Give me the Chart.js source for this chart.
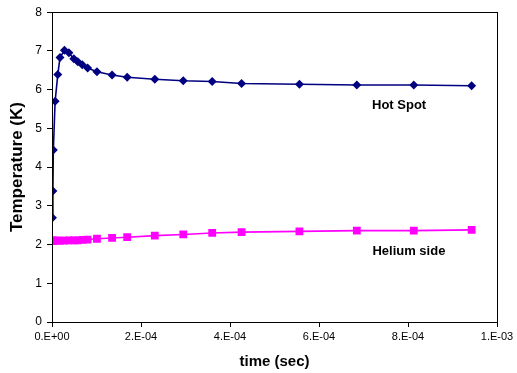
<!DOCTYPE html>
<html>
<head>
<meta charset="utf-8">
<script src="https://cdn.jsdelivr.net/npm/chart.js@4.4.1/dist/chart.umd.min.js"></script>
<style>
  html, body { margin: 0; padding: 0; background: #ffffff; }
  #wrap { width: 517px; height: 373px; position: relative; }
</style>
</head>
<body>
<div id="wrap"><canvas id="c"></canvas></div>
<script>
// time (sec)
const times = [1e-6, 2e-6, 3e-6, 7e-6, 1.3e-5, 1.8e-5, 2.8e-5, 3.8e-5, 4.9e-5, 5.8e-5, 6.8e-5, 8.0e-5,
  1.01e-4, 1.35e-4, 1.69e-4, 2.31e-4, 2.95e-4, 3.60e-4, 4.26e-4, 5.56e-4, 6.85e-4, 8.13e-4, 9.43e-4];
// Temperature (K)
const hotSpot = [2.69, 3.38, 4.44, 5.70, 6.39, 6.83, 7.02, 6.95, 6.80, 6.72, 6.64, 6.56,
  6.46, 6.38, 6.32, 6.27, 6.23, 6.21, 6.16, 6.14, 6.12, 6.12, 6.10];
const heliumSide = [2.10, 2.10, 2.10, 2.10, 2.10, 2.10, 2.10, 2.11, 2.11, 2.11, 2.12, 2.13,
  2.15, 2.17, 2.19, 2.23, 2.26, 2.30, 2.32, 2.34, 2.36, 2.36, 2.38];
const seriesNames = ['Hot Spot', 'Helium side'];
// label anchors in data units [time, temperature]
const labelAnchors = [[7.8e-4, 5.58], [8.02e-4, 1.82]];

const xTitle = 'time (sec)';
const yTitle = 'Temperature (K)';

function toPts(xs, ys) { return xs.map((x, i) => ({ x: x, y: ys[i] })); }

function sciLabel(v) {
  if (Math.abs(v) < 1e-12) return '0.E+00';
  let e = Math.floor(Math.log10(Math.abs(v)) + 1e-9);
  let m = Math.round(v / Math.pow(10, e));
  if (m >= 10) { m = 1; e += 1; }
  const sign = e < 0 ? '-' : '+';
  const ae = Math.abs(e);
  return m + '.E' + sign + (ae < 10 ? '0' + ae : ae);
}

const frameAndLabels = {
  id: 'frameAndLabels',
  afterDatasetsDraw(chart) {
    const ctx = chart.ctx;
    const a = chart.chartArea;
    ctx.save();
    ctx.strokeStyle = '#000';
    ctx.lineWidth = 1;
    ctx.strokeRect(Math.round(a.left) + 0.5, Math.round(a.top) + 0.5,
      Math.round(a.right - a.left), Math.round(a.bottom - a.top));
    ctx.fillStyle = '#000';
    ctx.font = 'bold 13px "Liberation Sans", Arial, sans-serif';
    ctx.textAlign = 'center';
    ctx.textBaseline = 'middle';
    const xs = chart.scales.x, ys = chart.scales.y;
    seriesNames.forEach((n, i) => {
      ctx.fillText(n, xs.getPixelForValue(labelAnchors[i][0]), ys.getPixelForValue(labelAnchors[i][1]));
    });
    ctx.restore();
  }
};

new Chart(document.getElementById('c'), {
  type: 'line',
  data: {
    datasets: [
      {
        label: seriesNames[0],
        data: toPts(times, hotSpot),
        borderColor: '#000080',
        backgroundColor: '#000080',
        borderWidth: 1.6,
        pointStyle: 'rectRot',
        pointRadius: 4.5,
        pointBorderWidth: 0,
        tension: 0
      },
      {
        label: seriesNames[1],
        data: toPts(times, heliumSide),
        borderColor: '#FF00FF',
        backgroundColor: '#FF00FF',
        borderWidth: 1.6,
        pointStyle: 'rect',
        pointRadius: 5.5,
        pointBorderWidth: 0,
        tension: 0
      }
    ]
  },
  options: {
    responsive: true,
    maintainAspectRatio: false,
    devicePixelRatio: 1,
    animation: false,
    layout: { padding: { left: 0, right: 20, top: 9, bottom: 0 } },
    plugins: { legend: { display: false }, tooltip: { enabled: false } },
    scales: {
      x: {
        type: 'linear',
        min: 0, max: 0.001,
        afterFit(s) { s.height = 51; },
        ticks: {
          stepSize: 0.0002,
          color: '#000',
          font: { family: '"Liberation Sans", Arial, sans-serif', size: 11 },
          padding: 3,
          maxRotation: 0,
          callback: (v) => sciLabel(v)
        },
        grid: { display: true, drawOnChartArea: false, drawTicks: true, tickLength: 5, color: '#000' },
        border: { display: true, color: '#000', width: 1 },
        title: {
          display: true, text: xTitle, color: '#000',
          font: { family: '"Liberation Sans", Arial, sans-serif', size: 15, weight: 'bold' },
          padding: { top: 0, bottom: 2 }
        }
      },
      y: {
        type: 'linear',
        min: 0, max: 8,
        afterFit(s) { s.width = 52; },
        ticks: {
          stepSize: 1,
          color: '#000',
          font: { family: '"Liberation Sans", Arial, sans-serif', size: 12 },
          padding: 5
        },
        grid: { display: true, drawOnChartArea: false, drawTicks: true, tickLength: 5, color: '#000' },
        border: { display: true, color: '#000', width: 1 },
        title: {
          display: true, text: yTitle, color: '#000',
          font: { family: '"Liberation Sans", Arial, sans-serif', size: 17, weight: 'bold' },
          padding: { top: 7, bottom: 0 }
        }
      }
    }
  },
  plugins: [frameAndLabels]
});
</script>
</body>
</html>
